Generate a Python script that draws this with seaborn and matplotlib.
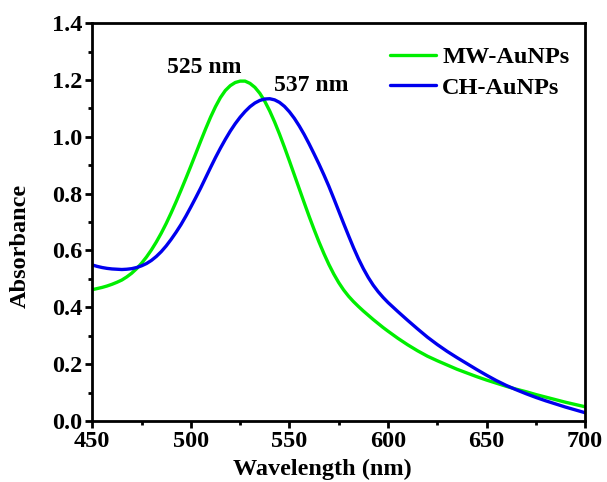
import numpy as np
import pandas as pd
import matplotlib
matplotlib.use("Agg")
import matplotlib.pyplot as plt
from matplotlib.ticker import MultipleLocator, FormatStrFormatter
import seaborn as sns

wavelength = [450, 452.5, 455, 457.5, 460, 462.5, 465, 467.5, 470, 472.5,
              475, 477.5, 480, 482.5, 485, 487.5, 490, 492.5, 495, 497.5,
              500, 502.5, 505, 507.5, 510, 512.5, 515, 517.5, 520, 522.5,
              525, 527.5, 530, 532.5, 535, 537.5, 540, 542.5, 545, 547.5,
              550, 552.5, 555, 557.5, 560, 562.5, 565, 567.5, 570, 572.5,
              575, 577.5, 580, 582.5, 585, 587.5, 590, 592.5, 595, 597.5,
              600, 605, 610, 615, 620, 625, 630, 635, 640, 645,
              650, 655, 660, 665, 670, 675, 680, 685, 690, 695, 700]

mw_aunps = [0.462, 0.466, 0.470, 0.475, 0.481, 0.488, 0.496, 0.507, 0.520, 0.536,
            0.555, 0.577, 0.602, 0.630, 0.661, 0.695, 0.732, 0.771, 0.812, 0.854,
            0.897, 0.941, 0.985, 1.028, 1.069, 1.106, 1.138, 1.163, 1.180, 1.191,
            1.196, 1.196, 1.188, 1.174, 1.153, 1.125, 1.091, 1.052, 1.009, 0.963,
            0.915, 0.866, 0.817, 0.768, 0.720, 0.674, 0.630, 0.589, 0.551, 0.517,
            0.487, 0.461, 0.439, 0.420, 0.403, 0.387, 0.372, 0.357, 0.343, 0.329,
            0.316, 0.291, 0.268, 0.247, 0.228, 0.212, 0.197, 0.182, 0.169, 0.156,
            0.144, 0.133, 0.122, 0.112, 0.103, 0.093, 0.084, 0.075, 0.066, 0.058, 0.050]

ch_aunps = [0.549, 0.544, 0.540, 0.537, 0.535, 0.534, 0.533, 0.534, 0.536, 0.540,
            0.546, 0.554, 0.565, 0.579, 0.596, 0.616, 0.639, 0.664, 0.691, 0.721,
            0.753, 0.786, 0.820, 0.856, 0.892, 0.927, 0.960, 0.991, 1.020, 1.046,
            1.069, 1.089, 1.106, 1.119, 1.128, 1.133, 1.134, 1.130, 1.121, 1.107,
            1.088, 1.065, 1.038, 1.008, 0.975, 0.940, 0.904, 0.866, 0.826, 0.783,
            0.739, 0.695, 0.652, 0.610, 0.571, 0.536, 0.505, 0.478, 0.455, 0.435,
            0.417, 0.385, 0.354, 0.324, 0.295, 0.269, 0.245, 0.223, 0.202, 0.181,
            0.161, 0.142, 0.125, 0.110, 0.096, 0.083, 0.071, 0.060, 0.049, 0.039, 0.029]

series_names = ["MW-AuNPs", "CH-AuNPs"]
peak_labels = ["525 nm", "537 nm"]
peak_label_pos = [(507, 1.245), (561, 1.181)]

df = pd.concat([
    pd.DataFrame({"Wavelength": wavelength, "Absorbance": mw_aunps, "Sample": series_names[0]}),
    pd.DataFrame({"Wavelength": wavelength, "Absorbance": ch_aunps, "Sample": series_names[1]}),
])

sns.set_style("ticks")
plt.rcParams["font.family"] = ["Liberation Serif", "DejaVu Serif"]
plt.rcParams["font.weight"] = "bold"
plt.rcParams["text.color"] = "black"
plt.rcParams["axes.labelcolor"] = "black"
plt.rcParams["xtick.color"] = "black"
plt.rcParams["ytick.color"] = "black"
plt.rcParams["lines.solid_joinstyle"] = "round"

fig = plt.figure(figsize=(6.07, 4.82), dpi=100)
ax = fig.add_axes([0.152, 0.1266, 0.812, 0.8254])

sns.lineplot(data=df, x="Wavelength", y="Absorbance", hue="Sample",
             palette=["#00ee00", "#0000ee"], linewidth=2.4, ax=ax, legend=True)

ax.set_xlim(450, 700)
ax.set_ylim(0, 1.4)
ax.xaxis.set_major_locator(MultipleLocator(50))
ax.xaxis.set_minor_locator(MultipleLocator(25))
ax.yaxis.set_major_locator(MultipleLocator(0.2))
ax.yaxis.set_minor_locator(MultipleLocator(0.1))
ax.yaxis.set_major_formatter(FormatStrFormatter("%.1f"))

for s in ax.spines.values():
    s.set_linewidth(2.0)
    s.set_color("black")

ax.tick_params(axis="both", which="major", direction="out", length=5, width=2,
               labelsize=17.5, pad=2, colors="black", labelcolor="black")
ax.tick_params(axis="both", which="minor", direction="out", length=3, width=2, colors="black")
for lab in ax.get_xticklabels() + ax.get_yticklabels():
    lab.set_fontweight("bold")

ax.set_xlabel("Wavelength (nm)", fontsize=17.5, fontweight="bold", color="black")
ax.set_ylabel("Absorbance", fontsize=17.5, fontweight="bold", color="black")
ax.xaxis.set_label_coords(0.467, -0.095)
ax.yaxis.set_label_coords(-0.125, 0.44)

for txt, (px, py) in zip(peak_labels, peak_label_pos):
    ax.text(px, py, txt, ha="center", va="center", fontsize=17, fontweight="bold", color="black")

leg = ax.legend(loc="upper left", bbox_to_anchor=(0.604, 0.942), frameon=False,
                fontsize=17.5, handlelength=1.9, handletextpad=0.25,
                borderpad=0, borderaxespad=0, labelspacing=0.35)
for t in leg.get_texts():
    t.set_fontweight("bold")
    t.set_color("black")
for h in leg.get_lines():
    h.set_linewidth(2.4)

fig.savefig("out.png", dpi=100)
